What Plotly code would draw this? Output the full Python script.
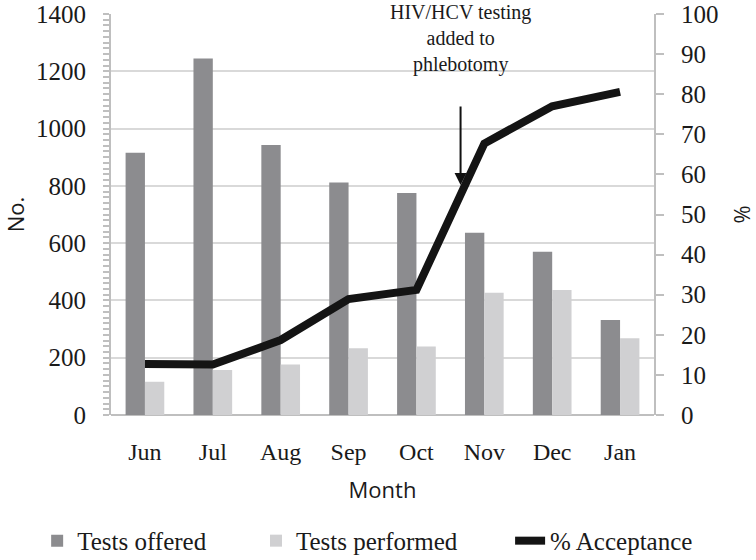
import plotly.graph_objects as go

months = ["Jun", "Jul", "Aug", "Sep", "Oct", "Nov", "Dec", "Jan"]
tests_offered = [916, 1245, 943, 812, 775, 636, 570, 332]
tests_performed = [116, 157, 176, 233, 239, 427, 436, 268]
pct_acceptance = [12.7, 12.6, 18.7, 28.9, 31.2, 67.7, 77.0, 80.6]

serif = "Liberation Serif, Times New Roman, serif"
sans = "Open Sans, Noto Sans, sans-serif"
axis_gray = "#bfbfbf"
grid_gray = "#d9d9d9"
txt = "#1a1a1a"

fig = go.Figure()
fig.add_trace(go.Bar(x=months, y=tests_offered, name="Tests offered", legend="legend",
                     marker=dict(color="#8c8c8f", line=dict(width=0))))
fig.add_trace(go.Bar(x=months, y=tests_performed, name="Tests performed", legend="legend2",
                     marker=dict(color="#d0d0d2", line=dict(width=0))))
fig.add_trace(go.Scatter(x=months, y=pct_acceptance, name="% Acceptance", yaxis="y2",
                         legend="legend3",
                         mode="lines", line=dict(color="#141414", width=8)))

# white box hiding the gridlines behind the note
fig.add_shape(type="rect", xref="paper", yref="paper", x0=0.488, x1=0.796, y0=0.83, y1=1.0,
              fillcolor="white", line=dict(width=0), layer="between")

fig.add_annotation(x=4.65, y=803, xref="x", yref="y", text="", showarrow=True,
                   ax=0, ay=-80, arrowhead=2, arrowsize=1.2, arrowwidth=2,
                   arrowcolor="#111111")
fig.add_annotation(x=4.65, y=0.938, xref="x", yref="paper",
                   text="HIV/HCV testing<br>added to<br>phlebotomy",
                   showarrow=False, font=dict(family=serif, size=20, color=txt),
                   borderpad=0, yanchor="middle")

leg_common = dict(orientation="h", xanchor="left", y=-0.314, yanchor="middle",
                  font=dict(family=serif, size=25, color=txt), bgcolor="rgba(0,0,0,0)")

fig.update_layout(
    width=756, height=560,
    margin=dict(l=111, r=102, t=14, b=145, autoexpand=False),
    paper_bgcolor="white", plot_bgcolor="white",
    barmode="group", bargap=0.43, bargroupgap=0,
    showlegend=True,
    legend=dict(x=-0.136, **leg_common),
    legend2=dict(x=0.267, **leg_common),
    legend3=dict(x=0.735, **leg_common),
    xaxis=dict(showline=False, ticks="", showgrid=False,
               tickfont=dict(family=serif, size=24, color=txt),
               ticklabelstandoff=20,
               title=dict(text="Month", font=dict(family=sans, size=22, color=txt),
                          standoff=18)),
    yaxis=dict(range=[0, 1400], dtick=200, showline=True, linecolor=axis_gray, linewidth=2,
               ticks="outside", ticklen=6, tickcolor=axis_gray, tickwidth=2,
               minor=dict(dtick=20, ticks="outside", ticklen=6, tickcolor=axis_gray,
                          tickwidth=1.5, showgrid=False),
               showgrid=True, gridcolor=grid_gray, gridwidth=1.5,
               zeroline=True, zerolinecolor=axis_gray, zerolinewidth=2,
               tickfont=dict(family=serif, size=25, color=txt),
               ticklabelstandoff=12,
               title=dict(text="No.", font=dict(family=sans, size=22, color=txt),
                          standoff=23)),
    yaxis2=dict(range=[0, 100], dtick=10, overlaying="y", side="right",
                showline=True, linecolor=axis_gray, linewidth=2,
                ticks="outside", ticklen=8, tickcolor=axis_gray, tickwidth=2,
                showgrid=False, zeroline=False,
                tickfont=dict(family=serif, size=25, color=txt),
                ticklabelstandoff=12,
                title=dict(text="%", font=dict(family=sans, size=22, color=txt),
                           standoff=32)),
)

fig.write_html("out.html", config={"displayModeBar": False},
               post_script="document.body.style.margin='0';")
